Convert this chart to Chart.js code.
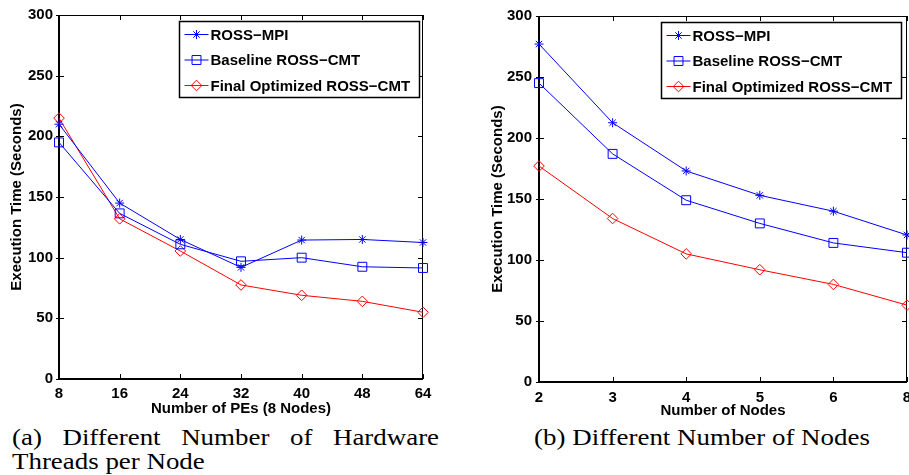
<!DOCTYPE html>
<html>
<head>
<meta charset="utf-8">
<script src="https://cdn.jsdelivr.net/npm/chart.js@4"></script>
<style>
  body { margin: 0; background: #fff; width: 909px; height: 475px; position: relative; overflow: hidden; }
  canvas { position: absolute; top: 0; }
  #peChart { left: 0; }
  #nodeChart { left: 455px; }
  .caption { position: absolute; font-family: "Liberation Serif", "Times New Roman", serif; font-size: 23px; line-height: 24px; color: #000; }
  #capA1 { left: 12px; top: 426px; width: 365px; text-align: justify; text-align-last: justify; transform: scaleX(1.17); transform-origin: left center; }
  #capA2 { left: 12px; top: 450px; white-space: nowrap; transform: scaleX(1.17); transform-origin: left center; }
  #capB { left: 702px; top: 426px; white-space: nowrap; transform: translateX(-50%) scaleX(1.17); }
</style>
</head>
<body>
<canvas id="peChart" width="450" height="420"></canvas>
<canvas id="nodeChart" width="464" height="420"></canvas>
<div class="caption" id="capA1">(a) Different Number of Hardware</div>
<div class="caption" id="capA2">Threads per Node</div>
<div class="caption" id="capB">(b) Different Number of Nodes</div>
<script>
// (a) hardware threads per node, 8 nodes
const peLabels = ['8', '16', '24', '32', '40', '48', '64'];
const peMpi = [210, 145, 115, 92, 114.5, 115, 112.5];
const peBaseline = [195, 136.5, 111, 97, 100, 92.5, 91.5];
const peFinal = [215, 132, 105.5, 77.5, 69, 64, 55];

// (b) number of nodes
const nodeLabels = ['2', '3', '4', '5', '6', '8'];
const nodeMpi = [277, 212.5, 173, 153, 140, 120.5];
const nodeBaseline = [245, 187, 149, 130, 114, 106];
const nodeFinal = [177, 134, 105, 92, 80, 63];

const seriesNames = ['ROSS\u2212MPI', 'Baseline ROSS\u2212CMT', 'Final Optimized ROSS\u2212CMT'];
const yTicks = [0, 50, 100, 150, 200, 250, 300];

const fontFamily = '"Liberation Sans", Arial, Helvetica, sans-serif';
Chart.defaults.font.family = fontFamily;
Chart.defaults.color = '#000';

// matlab style box with inward ticks, plus the boxed legend inside the plot
const frameAndLegend = {
  id: 'frameAndLegend',
  beforeDatasetsDraw(chart) {
    const { ctx, chartArea: a, scales: { x, y } } = chart;
    ctx.save();
    ctx.strokeStyle = '#000';
    ctx.lineWidth = 1;
    ctx.beginPath();
    ctx.moveTo(a.left, a.top + 0.5); ctx.lineTo(a.right, a.top + 0.5);
    ctx.moveTo(a.right - 0.5, a.top); ctx.lineTo(a.right - 0.5, a.bottom);
    x.ticks.forEach((t, i) => {
      const px = Math.round(x.getPixelForTick(i)) + 0.5;
      ctx.moveTo(px, a.bottom); ctx.lineTo(px, a.bottom - 5);
      ctx.moveTo(px, a.top); ctx.lineTo(px, a.top + 5);
    });
    y.ticks.forEach((t, i) => {
      const py = Math.round(y.getPixelForTick(i)) + 0.5;
      ctx.moveTo(a.left - 3, py); ctx.lineTo(a.left + 5, py);
      ctx.moveTo(a.right, py); ctx.lineTo(a.right - 5, py);
    });
    ctx.stroke();
    ctx.lineWidth = 2;
    ctx.beginPath();
    ctx.moveTo(a.left, a.top); ctx.lineTo(a.left, a.bottom); ctx.lineTo(a.right, a.bottom);
    ctx.stroke();
    ctx.restore();
  },
  afterDatasetsDraw(chart, args, opts) {
    const { ctx, chartArea: a } = chart;
    const sets = chart.data.datasets;
    ctx.save();
    ctx.font = 'bold 15px ' + fontFamily;
    const textW = Math.max(...sets.map(d => ctx.measureText(d.label).width));
    const boxW = Math.round(31 + textW + 9);
    const boxH = 76;
    const x0 = Math.round(a.right - opts.right - boxW) + 0.5;
    const y0 = Math.round(a.top + opts.top) + 0.5;
    ctx.fillStyle = '#fff';
    ctx.fillRect(x0, y0, boxW, boxH);
    ctx.strokeStyle = '#000';
    ctx.lineWidth = 1.5;
    ctx.strokeRect(x0, y0, boxW, boxH);
    sets.forEach((d, i) => {
      const yy = y0 + 13 + i * 25.5;
      ctx.strokeStyle = d.borderColor;
      ctx.lineWidth = 1;
      ctx.beginPath();
      ctx.moveTo(x0 + 5, yy); ctx.lineTo(x0 + 29, yy);
      ctx.stroke();
      ctx.fillStyle = 'rgba(0,0,0,0)';
      Chart.helpers.drawPoint(ctx, { pointStyle: d.pointStyle, radius: d.pointRadius, borderWidth: 1, rotation: 0 }, x0 + 17, yy);
      ctx.fillStyle = '#000';
      ctx.textAlign = 'left';
      ctx.textBaseline = 'middle';
      ctx.fillText(d.label, x0 + 31, yy + 1);
    });
    ctx.restore();
  }
};

function makeDatasets(mpi, base, fin) {
  const common = { borderWidth: 1, pointBorderWidth: 1, pointBackgroundColor: 'rgba(0,0,0,0)', tension: 0, clip: false };
  return [
    { ...common, label: seriesNames[0], data: mpi, borderColor: '#0000ff', pointBorderColor: '#0000ff', pointStyle: 'star', pointRadius: 4.5 },
    { ...common, label: seriesNames[1], data: base, borderColor: '#0000ff', pointBorderColor: '#0000ff', pointStyle: 'rect', pointRadius: 6.3 },
    { ...common, label: seriesNames[2], data: fin, borderColor: '#ff0000', pointBorderColor: '#ff0000', pointStyle: 'rectRot', pointRadius: 5.3 }
  ];
}

function makeOptions(c) {
  const bold = { size: 15, weight: 'bold' };
  return {
    responsive: false,
    animation: false,
    devicePixelRatio: 1,
    events: [],
    layout: { padding: { top: c.top, right: c.right, bottom: 0, left: c.left } },
    plugins: {
      legend: { display: false },
      tooltip: { enabled: false },
      frameAndLegend: { right: c.legRight, top: 6 }
    },
    scales: {
      x: {
        grid: { display: false, drawTicks: false },
        border: { display: false },
        ticks: { font: bold, padding: c.xPad, maxRotation: 0, autoSkip: false },
        title: { display: true, text: c.xTitle, font: bold, padding: { top: 0, bottom: c.xTitlePad } },
        afterFit(s) { s.height = c.xHeight; }
      },
      y: {
        min: 0,
        max: 300,
        grid: { display: false, drawTicks: false },
        border: { display: false },
        afterBuildTicks(s) { s.ticks = yTicks.map(v => ({ value: v })); },
        ticks: { font: bold, padding: c.yPad },
        title: { display: true, text: 'Execution Time (Seconds)', font: bold, padding: { top: c.yTitlePad, bottom: 0 } },
        afterFit(s) { s.width = c.yWidth; }
      }
    }
  };
}

new Chart(document.getElementById('peChart'), {
  type: 'line',
  data: { labels: peLabels, datasets: makeDatasets(peMpi, peBaseline, peFinal) },
  options: makeOptions({
    top: 13, right: 27, left: 0, legRight: 4,
    xHeight: 41, xPad: 6, xTitle: 'Number of PEs (8 Nodes)', xTitlePad: 2,
    yWidth: 59, yPad: 6, yTitlePad: 8
  }),
  plugins: [frameAndLegend]
});

new Chart(document.getElementById('nodeChart'), {
  type: 'line',
  data: { labels: nodeLabels, datasets: makeDatasets(nodeMpi, nodeBaseline, nodeFinal) },
  options: makeOptions({
    top: 16, right: 12, left: 30, legRight: 6,
    xHeight: 38, xPad: 7, xTitle: 'Number of Nodes', xTitlePad: 0,
    yWidth: 54, yPad: 7, yTitlePad: 4
  }),
  plugins: [frameAndLegend]
});
</script>
</body>
</html>
